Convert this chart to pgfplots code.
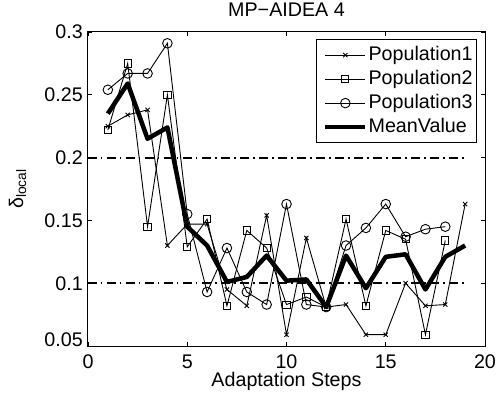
\documentclass[border=0pt]{standalone}
\usepackage{fontspec}
\setmainfont{Liberation Sans}
\usepackage{pgfplots}
\pgfplotsset{compat=1.18}
\begin{document}
\fontsize{19.7bp}{23.6bp}\selectfont
\begin{tikzpicture}
\begin{axis}[
 scale only axis, width=397bp, height=314bp,
 xmin=0, xmax=20, ymin=0.05, ymax=0.3,
 xtick={0,5,10,15,20}, xticklabels={0,5,10,15,20},
 ytick={0.05,0.1,0.15,0.2,0.25,0.3},
 yticklabels={\raisebox{7bp}{0.05},0.1,0.15,0.2,0.25,0.3},
 /pgf/number format/assume math mode=true,
 tick align=inside, major tick length=4bp,
 every tick/.style={black, line width=0.8bp},
 axis line style={line width=1bp},
 xticklabel style={inner sep=0pt, anchor=base, yshift=-22bp},
 yticklabel style={inner sep=0pt, anchor=base east, xshift=-5bp, yshift=-7bp},
 title={MP−AIDEA 4},
 every axis title/.style={at={(axis description cs:0.5,1)}, anchor=base, inner sep=0pt, yshift=15.3bp},
 xlabel={Adaptation Steps},
 xlabel style={at={(axis description cs:0.5,-0.1296)}, anchor=base, inner sep=0pt},
 ylabel={δ\textsubscript{local}},
 ylabel style={at={(axis description cs:-0.1776,0.5)}, anchor=center, inner sep=0pt},
 legend style={at={(0.98,0.977)}, anchor=north east, draw=black, line width=0.8bp, fill=white,
   inner xsep=3bp, inner ysep=3.5bp, row sep=0pt, column sep=0pt,
   nodes={inner xsep=1bp, inner ysep=2.75bp, text height=14.4bp, text depth=4.1bp}},
 legend cell align=left,
 legend image code/.code={\path (-4bp,0bp) (40bp,0bp); \draw[mark repeat=2,mark phase=2,#1] plot coordinates {(0bp,0bp)(20bp,0bp)(40bp,0bp)};},
]
\addplot[forget plot, black, line width=2bp, dash pattern=on 9bp off 4bp on 1.5bp off 4.5bp] coordinates {(0,0.2)(19,0.2)};
\addplot[forget plot, black, line width=2bp, dash pattern=on 9bp off 4bp on 1.5bp off 4.5bp] coordinates {(0,0.1)(19,0.1)};
\addplot[black, line width=0.9bp, mark=x, mark size=3bp, mark options={solid}] coordinates {
(1,0.225)(2,0.234)(3,0.238)(4,0.130)(5,0.147)(6,0.147)(7,0.095)(8,0.082)(9,0.154)(10,0.059)
(11,0.136)(12,0.081)(13,0.083)(14,0.059)(15,0.059)(16,0.100)(17,0.082)(18,0.083)(19,0.163)};
\addlegendentry{Population1}
\addplot[black, line width=0.9bp, mark=square, mark size=3.6bp, mark options={solid}] coordinates {
(1,0.222)(2,0.275)(3,0.145)(4,0.250)(5,0.129)(6,0.151)(7,0.082)(8,0.142)(9,0.128)(10,0.083)
(11,0.089)(12,0.081)(13,0.151)(14,0.082)(15,0.142)(16,0.135)(17,0.059)(18,0.134)};
\addlegendentry{Population2}
\addplot[black, line width=0.9bp, mark=o, mark size=4.8bp, mark options={solid}] coordinates {
(1,0.254)(2,0.267)(3,0.267)(4,0.291)(5,0.155)(6,0.093)(7,0.128)(8,0.093)(9,0.083)(10,0.163)
(11,0.083)(12,0.081)(13,0.130)(14,0.144)(15,0.163)(16,0.137)(17,0.143)(18,0.145)};
\addlegendentry{Population3}
\addplot[black, line width=4.5bp, line join=round, no marks] coordinates {
(1,0.235)(2,0.259)(3,0.215)(4,0.224)(5,0.145)(6,0.130)(7,0.101)(8,0.105)(9,0.122)(10,0.102)
(11,0.103)(12,0.081)(13,0.122)(14,0.096)(15,0.121)(16,0.123)(17,0.095)(18,0.121)(19,0.130)};
\addlegendentry{MeanValue}
\end{axis}
\pgfresetboundingbox
\path[use as bounding box] (-88bp,-54bp) rectangle (408bp,346bp);
\end{tikzpicture}
\end{document}
